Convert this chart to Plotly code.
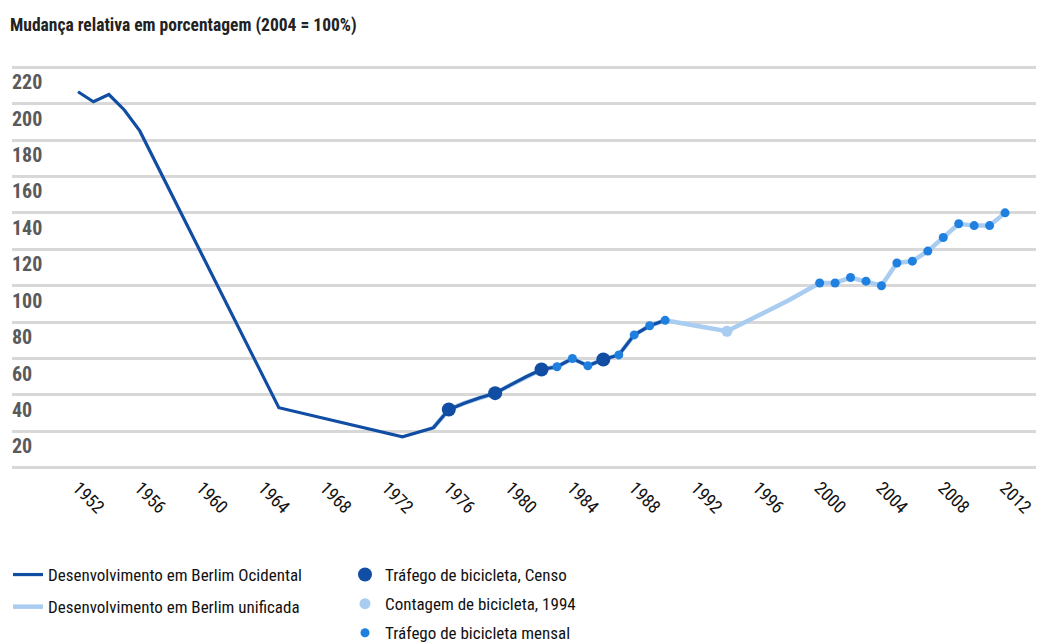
import plotly.graph_objects as go

# ---- data ----
west_years = [1952, 1953, 1954, 1955, 1956, 1965, 1973, 1975, 1976, 1977, 1978, 1979,
              1980, 1981, 1982, 1983, 1984, 1985, 1986, 1987, 1988, 1989, 1990]
west_vals = [206.5, 201, 205, 196.5, 185, 33, 17, 22, 32, 35.5, 38.5, 41,
             45.5, 50, 54, 55.5, 60, 56, 59.5, 62, 73, 78, 81]

unified_years = [1975, 1976, 1977, 1978, 1979, 1980, 1981, 1982, 1983, 1984, 1985, 1986,
                 1987, 1988, 1989, 1990, 1992, 1994, 1996, 1998, 2000, 2001, 2002,
                 2003, 2004, 2005, 2006, 2007, 2008, 2009, 2010, 2011, 2012]
unified_vals = [22, 32, 35.5, 38.5, 41, 45.5, 50, 54, 55.5, 60, 56, 59.5,
                62, 73, 78, 81, 78, 75, 83.5, 92, 101.5, 101.5, 104.5,
                102.5, 100, 112.5, 113.5, 119, 126.5, 134, 133, 133, 140]

census_years = [1976, 1979, 1982, 1986]
census_vals = [32, 41, 54, 59.5]

count1994_years = [1994]
count1994_vals = [75]

monthly_years = [1983, 1984, 1985, 1987, 1988, 1989, 1990, 2000, 2001, 2002, 2003, 2004,
                 2005, 2006, 2007, 2008, 2009, 2010, 2011, 2012]
monthly_vals = [55.5, 60, 56, 62, 73, 78, 81, 101.5, 101.5, 104.5, 102.5, 100,
                112.5, 113.5, 119, 126.5, 134, 133, 133, 140]

x_ticks = list(range(1952, 2013, 4))
y_ticks = [0, 20, 40, 60, 80, 100, 120, 140, 160, 180, 200, 220]
y_ticktext = ["" if v == 0 else str(v) for v in y_ticks]

title_text = "Mudança relativa em porcentagem (2004 = 100%)"
names = ["Desenvolvimento em Berlim Ocidental", "Desenvolvimento em Berlim unificada",
         "Tráfego de bicicleta, Censo", "Contagem de bicicleta, 1994",
         "Tráfego de bicicleta mensal"]

FONT = "Roboto Condensed, Liberation Sans Narrow, DejaVu Sans Condensed, Roboto, sans-serif"
DARK = "#114ea3"
LIGHT = "#a9ccf1"
MID = "#1f80e0"

# the page adds an 8px body margin, so the figure is 8px smaller each way
W, H = 1036, 635

fig = go.Figure()
fig.add_trace(go.Scatter(x=unified_years, y=unified_vals, mode="lines", name=names[1],
                         line=dict(color=LIGHT, width=4.5), legend="legend",
                         legendrank=2, legendgroup="u"))
fig.add_trace(go.Scatter(x=west_years, y=west_vals, mode="lines", name=names[0],
                         line=dict(color=DARK, width=3.2), legend="legend",
                         legendrank=1, legendgroup="w"))
fig.add_trace(go.Scatter(x=monthly_years, y=monthly_vals, mode="markers", name=names[4],
                         marker=dict(color=MID, size=9), legend="legend2",
                         legendrank=5, legendgroup="m"))
fig.add_trace(go.Scatter(x=count1994_years, y=count1994_vals, mode="markers", name=names[3],
                         marker=dict(color=LIGHT, size=11), legend="legend2",
                         legendrank=4, legendgroup="c94"))
fig.add_trace(go.Scatter(x=census_years, y=census_vals, mode="markers", name=names[2],
                         marker=dict(color=DARK, size=14), legend="legend2",
                         legendrank=3, legendgroup="c"))

fig.update_layout(
    width=W, height=H,
    margin=dict(l=4, r=0, t=57, b=173, autoexpand=False),
    paper_bgcolor="white", plot_bgcolor="white",
    font=dict(family=FONT, color="#111111"),
    title=dict(text=title_text, x=2 / W, xanchor="left", xref="container",
               y=1 - 17 / H, yanchor="middle", yref="container",
               font=dict(family=FONT, size=17.5, color="#222222", weight="bold")),
    xaxis=dict(range=[1947.73, 2014.52], tickvals=x_ticks, ticktext=[str(v) for v in x_ticks],
               tickangle=45, showgrid=False, zeroline=False, showline=False, ticks="",
               ticklabelstandoff=3,
               tickfont=dict(family=FONT, size=18, color="#111111")),
    yaxis=dict(range=[-1.2, 221.2], tickvals=y_ticks, ticktext=y_ticktext,
               ticklabelposition="inside bottom", ticklabelstandoff=-3, ticklabelshift=1,
               showgrid=True, gridcolor="#d8d8d8",
               gridwidth=2.5, zeroline=False, showline=False, ticks="",
               tickfont=dict(family=FONT, size=20, color="#5a5a5a", weight="bold")),
    legend=dict(xref="container", yref="container", x=0, y=1 - 549 / H,
                xanchor="left", yanchor="top", bgcolor="rgba(0,0,0,0)",
                tracegroupgap=7,
                font=dict(family=FONT, size=17, color="#111111"), itemwidth=30),
    legend2=dict(xref="container", yref="container", x=337 / W, y=1 - 549 / H,
                 xanchor="left", yanchor="top", bgcolor="rgba(0,0,0,0)",
                 tracegroupgap=4,
                 font=dict(family=FONT, size=17, color="#111111"), itemwidth=30),
    showlegend=True,
)

fig.write_html("out.html")
